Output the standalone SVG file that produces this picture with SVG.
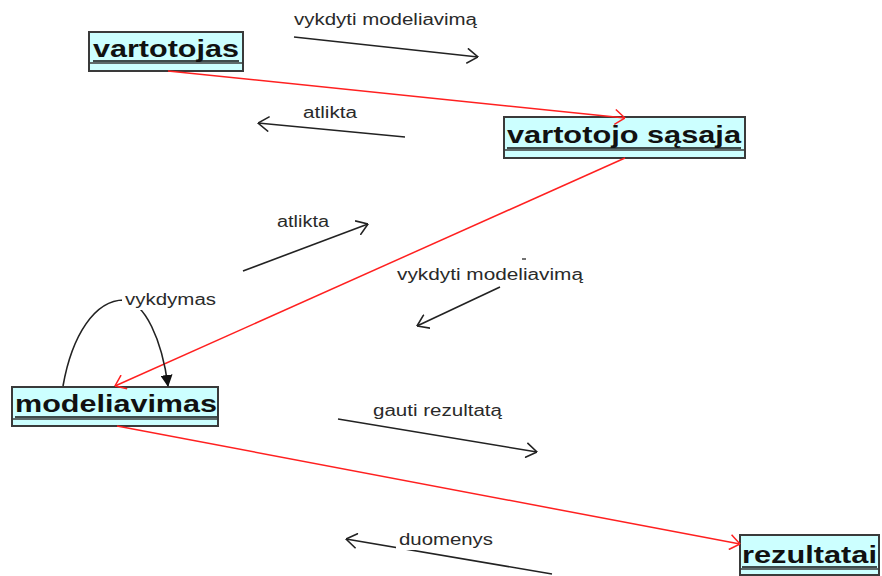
<svg xmlns="http://www.w3.org/2000/svg" width="882" height="576" viewBox="0 0 882 576">
  <style>
    .box { fill: #ccffff; stroke: #3a3a3a; stroke-width: 2; }
    .div { stroke: #3a3a3a; stroke-width: 1.5; }
    .uline { stroke: #111; stroke-width: 1.6; }
    .name { font-family: "Liberation Sans", Arial, sans-serif; font-weight: bold; font-size: 24px; fill: #111; }
    .lbl { font-family: "Liberation Sans", Arial, sans-serif; font-size: 16px; fill: #2a2a2a; }
    .msg { fill: none; stroke: #222; stroke-width: 1.6; marker-end: url(#open); }
    .link { fill: none; stroke: #ff2020; stroke-width: 1.5; marker-end: url(#openRed); }
  </style>
  <defs>
    <marker id="open" viewBox="0 0 12 16" refX="11.5" refY="8" markerWidth="12" markerHeight="16" markerUnits="userSpaceOnUse" orient="auto">
      <path d="M0.5,0.5 L11.5,8 L0.5,15.5" fill="none" stroke="#222" stroke-width="1.6"/>
    </marker>
    <marker id="openRed" viewBox="0 0 11 16" refX="10.5" refY="8" markerWidth="11" markerHeight="16" markerUnits="userSpaceOnUse" orient="auto">
      <path d="M0.5,0.5 L10.5,8 L0.5,15.5" fill="none" stroke="#ff2020" stroke-width="1.5"/>
    </marker>
    <marker id="solid" viewBox="0 0 12 12" refX="11" refY="6" markerWidth="12" markerHeight="12" markerUnits="userSpaceOnUse" orient="auto">
      <path d="M0,0 L12,6 L0,12 Z" fill="#111"/>
    </marker>
  </defs>

  <rect x="0" y="0" width="882" height="576" fill="#ffffff"/>

  <g id="vartotojas">
    <rect class="box" x="89" y="32" width="154" height="39"/>
    <line class="div" x1="89" y1="63" x2="243" y2="63"/>
    <text class="name" x="93" y="57" textLength="146" lengthAdjust="spacingAndGlyphs">vartotojas</text>
    <line class="uline" x1="93" y1="61" x2="239" y2="61"/>
  </g>

  <g id="vartotojo_sasaja">
    <rect class="box" x="504" y="117" width="241" height="41"/>
    <line class="div" x1="504" y1="150" x2="745" y2="150"/>
    <text class="name" x="507" y="143" textLength="234" lengthAdjust="spacingAndGlyphs">vartotojo sąsaja</text>
    <line class="uline" x1="507" y1="148" x2="741" y2="148"/>
  </g>

  <g id="modeliavimas">
    <rect class="box" x="12" y="387" width="206" height="39"/>
    <line class="div" x1="12" y1="419" x2="218" y2="419"/>
    <text class="name" x="15" y="412" textLength="202" lengthAdjust="spacingAndGlyphs">modeliavimas</text>
    <line class="uline" x1="15" y1="417" x2="217" y2="417"/>
  </g>

  <g id="rezultatai">
    <rect class="box" x="740" y="535" width="139" height="40"/>
    <line class="div" x1="740" y1="569" x2="879" y2="569"/>
    <text class="name" x="742" y="563" textLength="135" lengthAdjust="spacingAndGlyphs">rezultatai</text>
    <line class="uline" x1="742" y1="567" x2="877" y2="567"/>
  </g>

  <!-- links between objects and message arrows -->
  <g id="connectors">
    <line class="link" x1="168" y1="71" x2="625" y2="118"/>
    <line class="link" x1="625" y1="158" x2="115" y2="386"/>
    <line class="link" x1="117" y1="426" x2="740" y2="544"/>

    <line class="msg" x1="294" y1="37" x2="478" y2="57"/>
    <line class="msg" x1="405" y1="137" x2="258" y2="123"/>
    <line class="msg" x1="243" y1="271" x2="368" y2="224"/>
    <line class="msg" x1="500" y1="287" x2="417" y2="326"/>
    <line class="msg" x1="338" y1="419" x2="537" y2="452"/>
    <line class="msg" x1="552" y1="574" x2="346" y2="539"/>
    <line x1="522" y1="259" x2="526" y2="259" stroke="#444" stroke-width="1.5"/>

    <!-- self call on modeliavimas -->
    <path d="M63,386 C72,335 95,300 124,300 C145,302 162,340 168,386" fill="none" stroke="#222" stroke-width="1.6" marker-end="url(#solid)"/>
  </g>

  <!-- message labels -->
  <g id="labels">
    <text class="lbl" x="294" y="25" textLength="183" lengthAdjust="spacingAndGlyphs">vykdyti modeliavimą</text>
    <text class="lbl" x="303" y="118" textLength="54" lengthAdjust="spacingAndGlyphs">atlikta</text>
    <text class="lbl" x="277" y="227" textLength="52" lengthAdjust="spacingAndGlyphs">atlikta</text>
    <text class="lbl" x="397" y="280" textLength="186" lengthAdjust="spacingAndGlyphs">vykdyti modeliavimą</text>
    <text class="lbl" x="373" y="416" textLength="129" lengthAdjust="spacingAndGlyphs">gauti rezultatą</text>
    <rect x="396" y="532" width="100" height="18" fill="#ffffff"/>
    <text class="lbl" x="399" y="545" textLength="94" lengthAdjust="spacingAndGlyphs">duomenys</text>
    <rect x="122" y="292" width="97" height="18" fill="#ffffff"/>
    <text class="lbl" x="125" y="305" textLength="91" lengthAdjust="spacingAndGlyphs">vykdymas</text>
  </g>
</svg>
